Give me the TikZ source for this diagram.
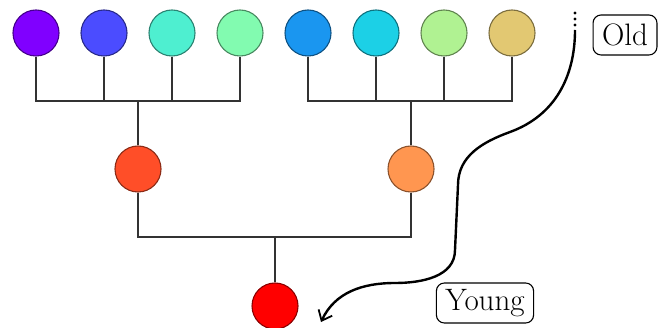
\documentclass[tikz,border=0pt]{standalone}
\usetikzlibrary{arrows.meta}
\definecolor{cA}{HTML}{8000FF}
\definecolor{cB}{HTML}{4B4CFF}
\definecolor{cC}{HTML}{4EEFD0}
\definecolor{cD}{HTML}{82FBB0}
\definecolor{cE}{HTML}{1A96F0}
\definecolor{cF}{HTML}{1CD0E6}
\definecolor{cG}{HTML}{B0F292}
\definecolor{cH}{HTML}{E2C872}
\definecolor{cM}{HTML}{FF4E28}
\definecolor{cN}{HTML}{FF9650}
\definecolor{cR}{HTML}{FF0000}
\definecolor{stem}{HTML}{333333}
\tikzset{
  ball/.style={circle, minimum size=46pt, inner sep=0pt, line width=1.1pt, fill=#1, draw=#1!55!black},
  stemline/.style={draw=stem, line width=1.9pt},
  tag/.style={draw, rounded corners=8pt, line width=1.1pt, minimum height=40pt, inner xsep=9pt, font=\fontsize{31}{35}\selectfont},
  flow/.style={line width=2.4pt, -{Straight Barb[length=9pt,width=15pt,line width=1.8pt]}}
}
\begin{document}
\begin{tikzpicture}[x=1pt,y=1pt]
\useasboundingbox (0,0) rectangle (658,-328);
% leaves
\node[ball=cA] (c1) at (36,-33) {};
\node[ball=cB] (c2) at (104,-33) {};
\node[ball=cC] (c3) at (172,-33) {};
\node[ball=cD] (c4) at (240,-33) {};
\node[ball=cE] (c5) at (308,-33) {};
\node[ball=cF] (c6) at (376,-33) {};
\node[ball=cG] (c7) at (444,-33) {};
\node[ball=cH] (c8) at (512,-33) {};
% middle
\node[ball=cM] (m1) at (138,-169) {};
\node[ball=cN] (m2) at (411,-169) {};
% root
\node[ball=cR] (r) at (275,-306) {};
% junctions
\coordinate (j1) at (138,-101);
\coordinate (j2) at (411,-101);
\coordinate (j3) at (275,-237);
\draw[stemline] (c1.south) |- (j1) -| (c4.south);
\draw[stemline] (c2.south) -- (c2.south |- j1);
\draw[stemline] (c3.south) -- (c3.south |- j1);
\draw[stemline] (j1) -- (m1.north);
\draw[stemline] (c5.south) |- (j2) -| (c8.south);
\draw[stemline] (c6.south) -- (c6.south |- j2);
\draw[stemline] (c7.south) -- (c7.south |- j2);
\draw[stemline] (j2) -- (m2.north);
\draw[stemline] (m1.south) |- (j3) -| (m2.south);
\draw[stemline] (j3) -- (r.north);
% dots
\fill (575,-13) circle (1.7pt) (575,-19) circle (1.7pt) (575,-25) circle (1.7pt);
% labels
\node[tag] (old) at (625,-35) {Old};
\node[tag] (young) at (485,-303) {Young};
% arrow
\coordinate (s) at (575,-30);
\coordinate (e) at (321,-322);
\draw[flow] (s) to[out=-90,in=20] (510,-132) to[out=200,in=90] (458,-185) -- (455,-250) to[out=-90,in=0] (395,-283) to[out=180,in=65] (e);
\end{tikzpicture}
\end{document}
